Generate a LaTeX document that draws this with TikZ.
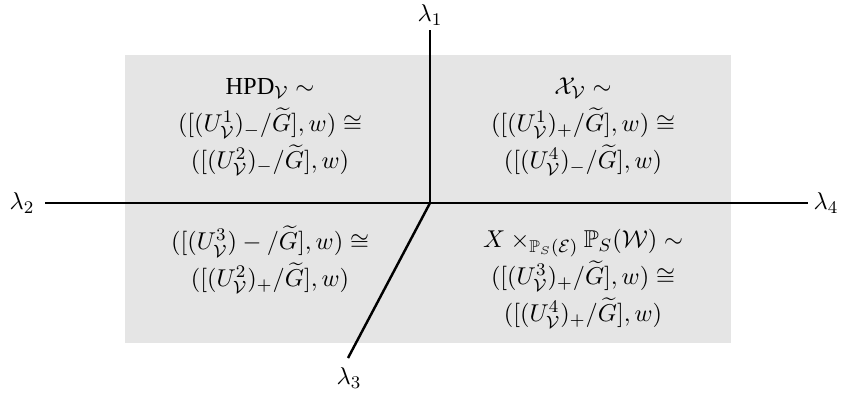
\documentclass[tikz,border=0pt]{standalone}
\usepackage{amsmath,amssymb}
\usepackage{fontspec}
\setmainfont{Liberation Serif}
\usepackage{tikz}
\usetikzlibrary{positioning}
\tikzstyle{axisline} = [line width=1.1pt, black]
\tikzstyle{axlabel} = [inner sep=0pt, font=\fontsize{11}{13}\selectfont]
\tikzstyle{quadtext} = [align=center, inner sep=0pt, font=\fontsize{11}{16.6}\selectfont]

\begin{document}
\begin{tikzpicture}[x=0.45pt, y=0.45pt]
\useasboundingbox (0,0) rectangle (843,394);

% Shaded region
\fill [black!10] (125,51) rectangle (731,339);

% Axes
\coordinate (o) at (430,191);
\coordinate (top) at (430,364);
\coordinate (left) at (45,191);
\coordinate (right) at (808,191);
\coordinate (bot) at (348,36);
\node (l1) [axlabel] at (430,379) {$\lambda_1$};
\node (l2) [axlabel] at (22,191) {$\lambda_2$};
\node (l3) [axlabel] at (349,16) {$\lambda_3$};
\node (l4) [axlabel] at (826,191) {$\lambda_4$};
\draw [axisline] (left) -- (right);
\draw [axisline] (o) -- (top);
\draw [axisline] (o) -- (bot);

% Quadrants
\node (ql1) [quadtext] at (270,267) {$\mathrm{HPD}_{\mathcal V}\sim$\\
  $([(U^1_{\mathcal V})_-/\widetilde G],w)\cong$\\
  $([(U^2_{\mathcal V})_-/\widetilde G],w)$};
\node (ql4) [quadtext] at (583,267) {$\mathcal X_{\mathcal V}\sim$\\
  $([(U^1_{\mathcal V})_+/\widetilde G],w)\cong$\\
  $([(U^4_{\mathcal V})_-/\widetilde G],w)$};
\node (ql2) [quadtext] at (270,134) {$([(U^3_{\mathcal V})-/\widetilde G],w)\cong$\\
  $([(U^2_{\mathcal V})_+/\widetilde G],w)$};
\node (ql3) [quadtext] at (583,115) {$X\times_{\mathbb P_S(\mathcal E)}\mathbb P_S(\mathcal W)\sim$\\
  $([(U^3_{\mathcal V})_+/\widetilde G],w)\cong$\\
  $([(U^4_{\mathcal V})_+/\widetilde G],w)$};

\end{tikzpicture}
\end{document}
